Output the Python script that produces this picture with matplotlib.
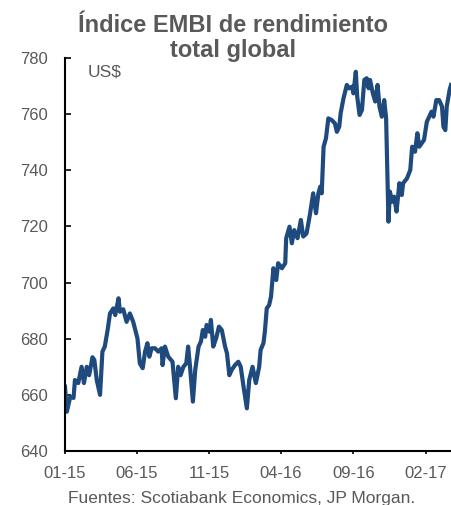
import numpy as np
import pandas as pd
import matplotlib
matplotlib.use("Agg")
import matplotlib.pyplot as plt
import matplotlib.dates as mdates

plt.rcParams['font.family'] = ['Liberation Sans', 'DejaVu Sans']

# days after 2015-01-01 and the index level (US$)
days = [0, 4, 11, 18, 21, 28, 35, 40, 46, 51, 58, 62, 67, 74, 79, 84, 90, 95,
        102, 106, 113, 116, 123, 130, 137, 144, 153, 158, 164, 169, 174, 178,
        183, 190, 197, 204, 206, 211, 218, 227, 234, 239, 244, 250, 256, 260,
        264, 270, 275, 282, 287, 291, 296, 299, 305, 308, 313, 319, 325, 331,
        338, 342, 347, 352, 359, 366, 371, 377, 384, 389, 396, 403, 410, 413,
        419, 422, 426, 431, 435, 440, 446, 450, 458, 465, 467, 474, 479, 484,
        491, 498, 503, 510, 517, 524, 530, 535, 539, 542, 546, 551, 556, 563,
        570, 574, 579, 582, 588, 595, 600, 606, 609, 614, 617, 622, 627, 632,
        637, 641, 644, 650, 655, 660, 664, 669, 674, 678, 683, 686, 691, 695,
        700, 706, 711, 714, 722, 729, 733, 739, 744, 748, 753, 758, 764, 769,
        774, 778, 784, 790, 796, 799, 803, 806, 812, 815]
embi = [662.9, 654.0, 659.3, 658.9, 665.3, 664.2, 670.0, 664.2, 670.0, 667.0,
        673.4, 672.4, 665.3, 660.0, 675.4, 677.2, 683.1, 689.0, 690.8, 688.4,
        694.4, 689.6, 690.5, 686.0, 689.0, 686.0, 680.1, 671.2, 669.5, 675.4,
        678.4, 673.6, 676.6, 676.6, 675.4, 676.6, 670.6, 677.2, 673.6, 671.8,
        658.8, 670.0, 667.0, 670.0, 671.2, 677.2, 670.0, 657.6, 668.9, 677.2,
        679.0, 683.1, 680.7, 684.9, 682.5, 686.7, 677.2, 680.1, 684.3, 683.1,
        677.2, 674.8, 667.0, 668.9, 670.6, 671.8, 670.0, 662.9, 655.2, 665.3,
        670.0, 664.2, 670.0, 676.0, 678.4, 682.5, 690.8, 692.0, 695.0, 705.1,
        700.9, 706.9, 705.1, 706.9, 715.8, 719.9, 714.0, 718.7, 715.8, 722.3,
        716.4, 717.5, 724.1, 731.8, 724.7, 731.8, 734.2, 731.8, 748.4, 751.4,
        758.5, 757.9, 756.7, 753.7, 755.5, 760.3, 765.6, 770.4, 769.2, 769.8,
        767.4, 775.1, 766.2, 759.7, 761.5, 772.2, 772.8, 769.2, 772.2, 767.4,
        764.5, 770.4, 762.7, 759.1, 765.0, 758.5, 721.7, 732.4, 728.8, 730.6,
        725.3, 735.4, 731.2, 735.4, 737.1, 740.1, 748.4, 746.6, 753.2, 748.4,
        749.6, 750.8, 757.3, 759.1, 760.9, 759.1, 765.0, 765.0, 762.7, 755.5,
        754.3, 762.7, 768.6, 770.4]

tick_dates = ['2015-01-01', '2015-06-01', '2015-11-01',
              '2016-04-01', '2016-09-01', '2017-02-01']
y_ticks = [640, 660, 680, 700, 720, 740, 760, 780]

start = pd.Timestamp('2015-01-01')
dates = start + pd.to_timedelta(days, unit='D')

grey = '#595959'
navy = '#1F4A7E'
W, H = 451, 505

fig = plt.figure(figsize=(W / 100, H / 100), dpi=100)
ax = fig.add_axes([65 / W, 1 - 451 / H, 1 - 65 / W, (451 - 58) / H])

ax.plot(dates, embi, color=navy, linewidth=3.0, solid_joinstyle='round')

ax.set_ylim(640, 780)
ax.set_yticks(y_ticks)
ax.set_xlim(start, start + pd.Timedelta(days=815))
ax.set_xticks(pd.to_datetime(tick_dates))
ax.xaxis.set_major_formatter(mdates.DateFormatter('%m-%y'))

for side in ['top', 'right']:
    ax.spines[side].set_visible(False)
for side in ['left', 'bottom']:
    ax.spines[side].set_linewidth(1.5)
    ax.spines[side].set_color('black')

ax.tick_params(axis='y', direction='in', length=4, width=1.2, pad=12,
               labelsize=12, labelcolor=grey)
ax.tick_params(axis='x', direction='out', length=2.5, width=1.2, pad=8,
               labelsize=12, labelcolor=grey)

fig.text(88 / W, 1 - 72 / H, 'US$', fontsize=12.5, color=grey,
         va='center', ha='left')

fig.text(233 / W, 1 - 38 / H, 'Índice EMBI de rendimiento\ntotal global',
         ha='center', va='center', fontsize=17, fontweight='bold',
         color=grey, linespacing=1.15)

fig.text(242 / W, 1 - 499 / H, 'Fuentes: Scotiabank Economics, JP Morgan.',
         ha='center', va='center', fontsize=12.5, color=grey)

fig.savefig('out.png', dpi=100)
